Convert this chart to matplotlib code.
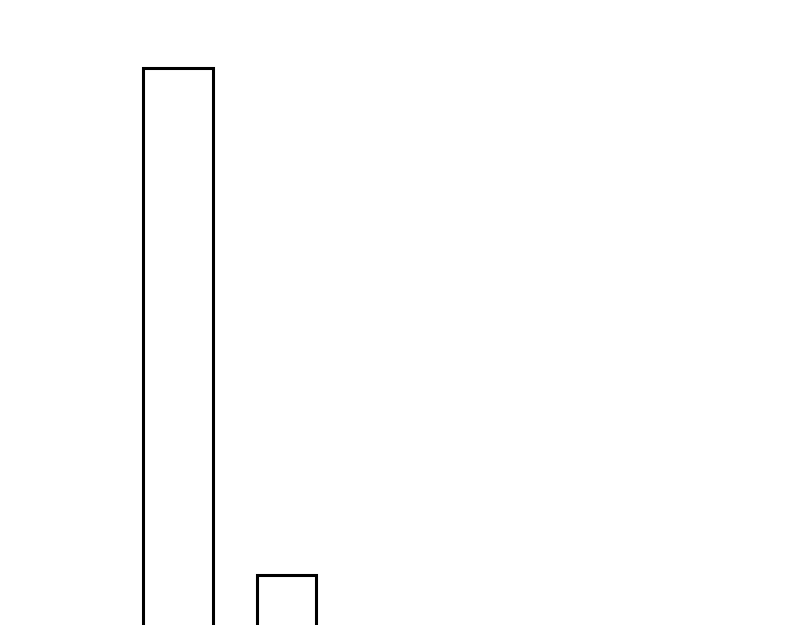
import matplotlib
matplotlib.use('Agg')
import matplotlib.pyplot as plt

# bar data (cropped view: bars run off the bottom edge)
categories = ['A', 'B']
values = [632, 125]
centers = [178, 286.5]
widths = [70, 59]

fig = plt.figure(figsize=(8, 6.25), dpi=100)
ax = fig.add_axes([0, 0, 1, 1])
ax.bar(centers, values, width=widths, color='white', edgecolor='black', linewidth=2.2)
ax.set_xlim(0, 800)
ax.set_ylim(75, 700)
ax.axis('off')

fig.savefig('out.png', dpi=100, facecolor='white')
